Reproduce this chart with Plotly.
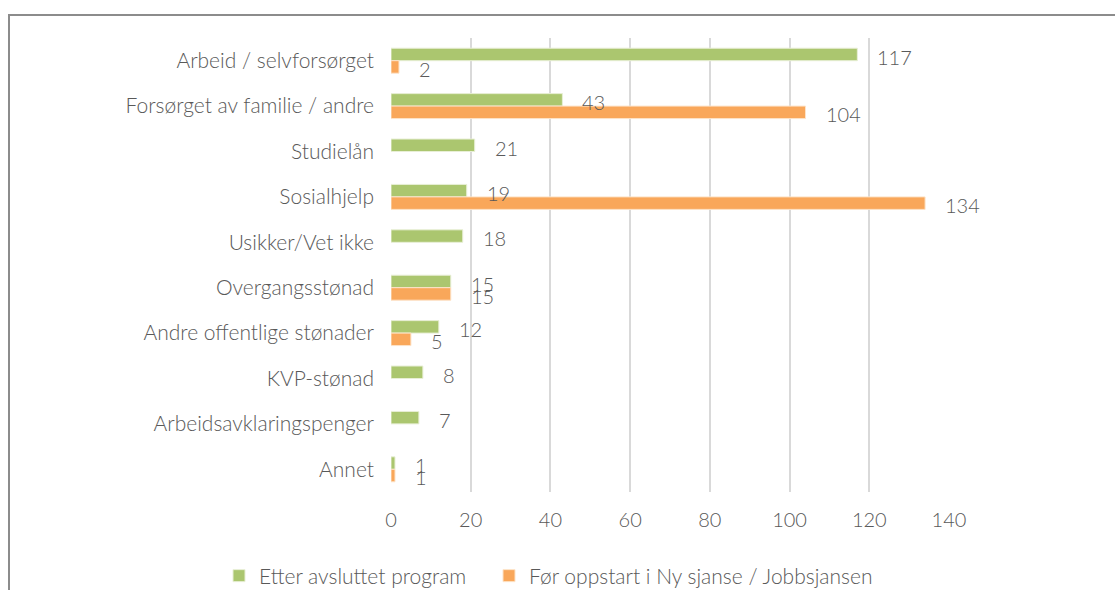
import plotly.graph_objects as go

categories = ["Arbeid / selvforsørget", "Forsørget av familie / andre", "Studielån",
              "Sosialhjelp", "Usikker/Vet ikke", "Overgangsstønad",
              "Andre offentlige stønader", "KVP-stønad", "Arbeidsavklaringspenger", "Annet"]
etter = [117, 43, 21, 19, 18, 15, 12, 8, 7, 1]
for_ = [2, 104, None, 134, None, 15, 5, None, None, 1]
series_names = ["Etter avsluttet program", "Før oppstart i Ny sjanse / Jobbsjansen"]
x_ticks = [0, 20, 40, 60, 80, 100, 120, 140]

GREEN = "#abc66f"
ORANGE = "#f9a75a"
TXT = "#595959"
FONT = "Lato"
W = 300

def f(size=20):
    return dict(family=FONT, size=size, color=TXT, weight=W)

fig = go.Figure()
fig.add_trace(go.Bar(y=categories, x=etter, orientation="h", name=series_names[0],
                     legend="legend",
                     marker=dict(color=GREEN, line=dict(color="#e8efd6", width=1))))
fig.add_trace(go.Bar(y=categories, x=for_, orientation="h", name=series_names[1],
                     legend="legend2",
                     marker=dict(color=ORANGE, line=dict(color="#fde3c8", width=1))))

annotations = []
for c, v in zip(categories, etter):
    if v is not None:
        annotations.append(dict(x=v, y=c, xref="x", yref="y", text=str(v), showarrow=False,
                                xanchor="left", xshift=18, yshift=4, font=f()))
for c, v in zip(categories, for_):
    if v is not None:
        annotations.append(dict(x=v, y=c, xref="x", yref="y", text=str(v), showarrow=False,
                                xanchor="left", xshift=18, yshift=-8, font=f()))

PL, PR, PT, PB = 391, 949, 38, 492
pw, ph = PR - PL, PB - PT

def leg(px):
    return dict(orientation="h", xref="paper", yref="paper",
                x=(px - PL) / pw, xanchor="left", y=(PB - 576) / ph, yanchor="middle",
                font=f(21), itemwidth=30, bgcolor="rgba(0,0,0,0)")

fig.update_layout(
    width=1115, height=590,
    margin=dict(l=PL, r=1115 - PR, t=PT, b=590 - PB, autoexpand=False),
    paper_bgcolor="white", plot_bgcolor="white",
    barmode="group", bargap=0.45, bargroupgap=0,
    font=f(),
    showlegend=True,
    legend=leg(219),
    legend2=leg(489),
    annotations=annotations,
    shapes=[dict(type="rect", xref="paper", yref="paper",
                 x0=(9 - PL) / pw, x1=(1125 - PL) / pw,
                 y0=(PB - 600) / ph, y1=(PB - 15) / ph,
                 line=dict(color="#8c8c8c", width=2), fillcolor="rgba(0,0,0,0)", layer="below")],
)
fig.update_xaxes(range=[0, 140], tickvals=x_ticks, ticktext=[str(t) for t in x_ticks],
                 showgrid=True, gridcolor="#d9d9d9", gridwidth=2,
                 zeroline=False, showline=False, ticks="",
                 ticklabelstandoff=14, tickfont=f())
fig.update_yaxes(autorange="reversed", showgrid=False, zeroline=False, showline=False,
                 ticks="", ticklabelstandoff=16, tickfont=f(21))

fig.write_html("out.html", config={"displayModeBar": False},
               post_script="document.body.style.margin='0';")
